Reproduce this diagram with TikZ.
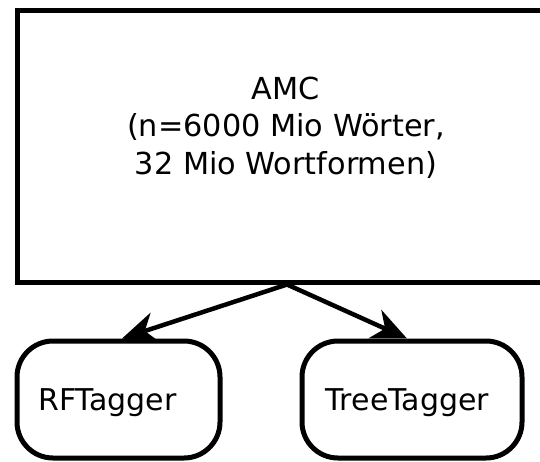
\documentclass[tikz,border=0pt]{standalone}
\usepackage{fontspec}
\setmainfont{DejaVu Sans}
\usetikzlibrary{arrows.meta}
\tikzset{
	corpus/.style={draw, line width=5pt, minimum width=540pt, minimum height=272pt, inner sep=0pt},
	tagger/.style={draw, line width=5pt, rounded corners=36pt, minimum height=117pt, inner sep=0pt, text depth=0pt, font=\fontsize{30}{37.5}\selectfont},
	feed/.style={line width=4.5pt, -{Stealth[length=35pt, width=31pt, inset=11pt]}}
}

\begin{document}
\begin{tikzpicture}[x=1pt, y=-1pt]
		%%%%% START %%%%%
		
		\useasboundingbox (0, 0) rectangle (540, 461);
		\clip (0, 0) rectangle (540, 461);
		\fill[white] (0, 0) rectangle (540, 461);
		
		\node[corpus] (amc) at (287, 146) {};
		\node[align=center, inner sep=0pt, font=\fontsize{30.3}{37.5}\selectfont] (amctext) at (286, 127.5) {AMC\\(n=6000 Mio Wörter,\\32 Mio Wortformen)};
		
		\node[tagger, minimum width=203pt] (rf) at (118.5, 399.5) {RFTagger\kern22pt};
		\node[tagger, minimum width=220pt] (tt) at (412, 399.5) {TreeTagger\kern9pt};
		
		\draw[feed] (amc.south) -- ([xshift=3.5pt]rf.north);
		\draw[feed] (amc.south) -- ([xshift=-5pt]tt.north);
		
		%%%%% END %%%%%
	\end{tikzpicture}
\end{document}
